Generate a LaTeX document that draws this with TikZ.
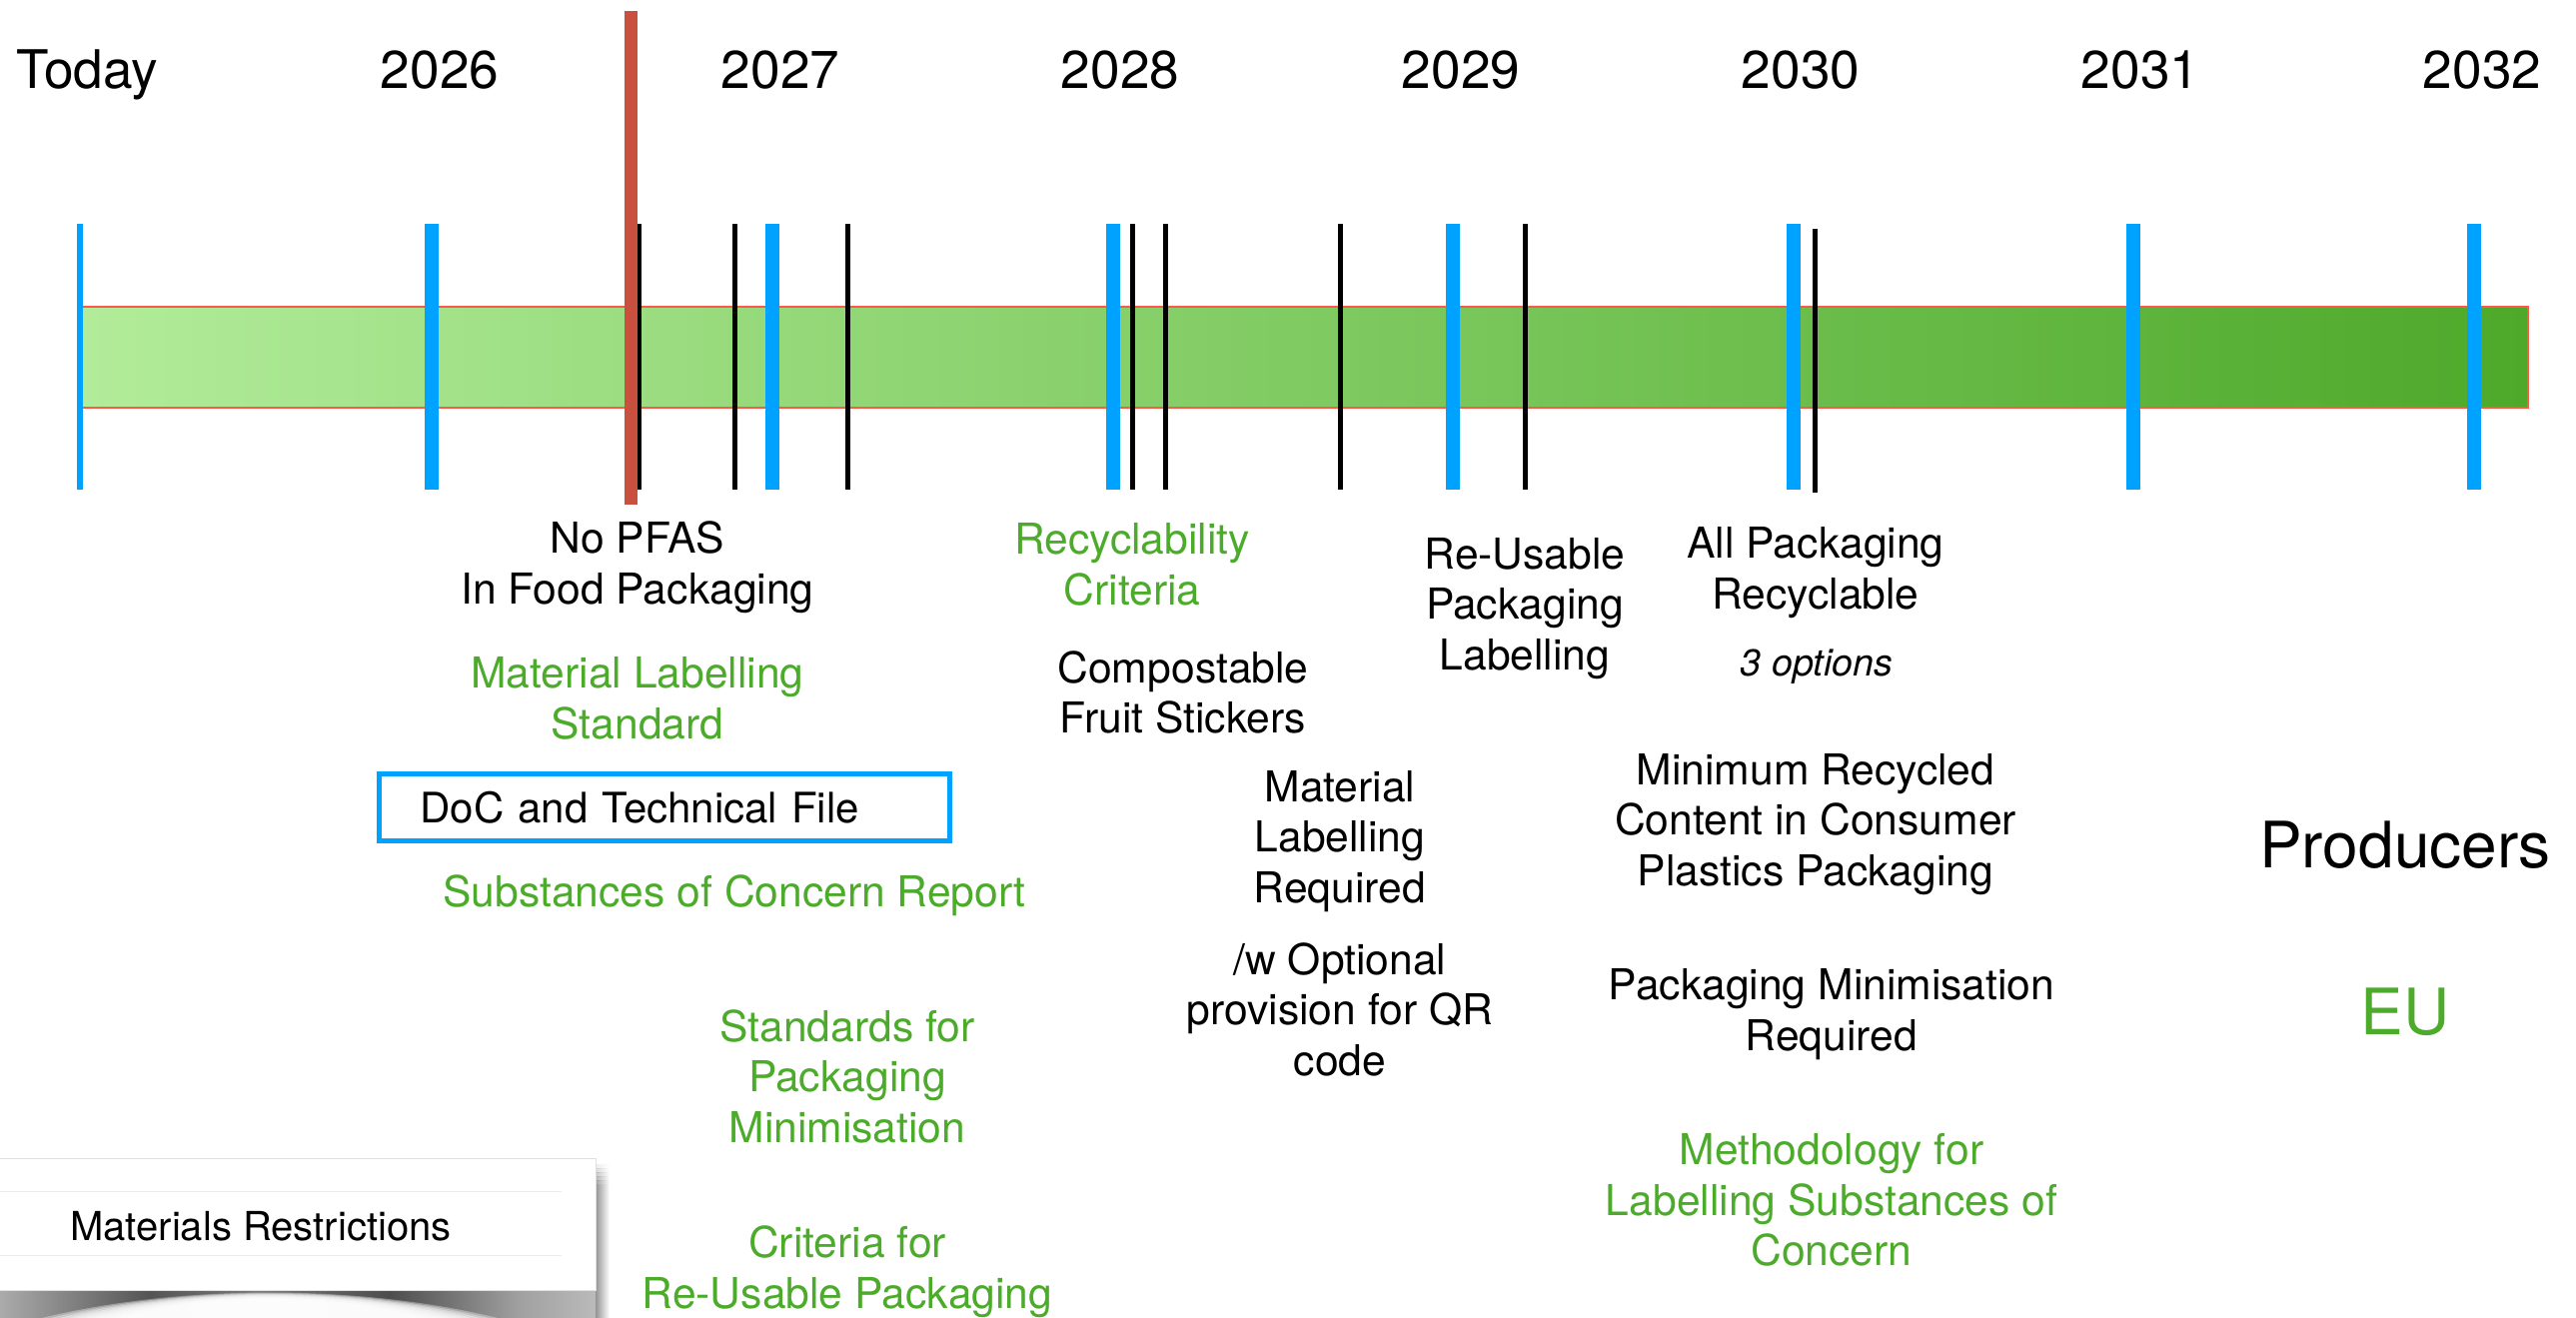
\documentclass[tikz,border=0pt]{standalone}
\usepackage{fontspec}
\setmainfont{TeX Gyre Heros}
\definecolor{tlblue}{HTML}{00A2FF}
\definecolor{tlgreen}{HTML}{4CAB2B}
\definecolor{tlred}{HTML}{C9503E}
\definecolor{tledge}{HTML}{F95A4C}
\definecolor{barL}{HTML}{B2EC9A}
\definecolor{barR}{HTML}{4EA92A}
\pgfdeclarehorizontalshading{barsh}{100bp}{color(0bp)=(barL);color(25bp)=(barL);color(75bp)=(barR);color(100bp)=(barR)}
\pgfdeclarehorizontalshading{panelsh}{100bp}{color(0bp)=(black!33);color(25bp)=(black!33);color(37.6bp)=(black!67);color(46.6bp)=(black!52);color(57.7bp)=(black!70);color(68.6bp)=(black!37);color(75bp)=(black!27);color(100bp)=(black!27)}
\tikzset{
  x=0.5pt,y=-0.5pt,
  yearlab/.style={inner sep=0pt,font=\fontsize{26.6}{30}\selectfont,anchor=center},
  lab/.style={inner sep=0pt,align=center,font=\fontsize{21.3}{25.3}\selectfont},
  glab/.style={lab,text=tlgreen},
  biglab/.style={inner sep=0pt,font=\fontsize{32}{36}\selectfont},
  bluetick/.style={fill=tlblue,draw=none},
  blacktick/.style={fill=black,draw=none},
  docboxstyle/.style={draw=tlblue,line width=2.5pt,minimum height=33.5pt,text width=244.5pt,inner xsep=20.5pt,inner ysep=0pt,align=left,font=\fontsize{21}{25.3}\selectfont},
}
\begin{document}
\begin{tikzpicture}
\useasboundingbox (0,0) rectangle (2578,1318);
% bar
\shade[shading=barsh,draw=none] (80,307) rectangle (2530,408);
\draw[tledge,line width=1pt] (80,307) -- (2530,307) -- (2530,408) -- (80,408);
% ticks
\fill[bluetick] (77,224) rectangle (83,490);
\foreach \x in {432,773,1114,1454,1795,2135}{\fill[bluetick] (\x-7,224) rectangle (\x+7,490);}
\fill[bluetick] (2469,224) rectangle (2483,490);
\foreach \x in {735,848,1133,1166,1341,1526}{\fill[blacktick] (\x-2.5,224) rectangle (\x+2.5,490);}
\fill[blacktick] (637,224) rectangle (642,490);
\fill[blacktick] (1814,229) rectangle (1819,493);
\fill[tlred] (625,11) rectangle (638,505);
% years
\node[yearlab,anchor=west] (today) at (16,75) {Today};
\node[yearlab] (y26) at (440,70) {2026};
\node[yearlab] (y27) at (781,70) {2027};
\node[yearlab] (y28) at (1121,70) {2028};
\node[yearlab] (y29) at (1462,70) {2029};
\node[yearlab] (y30) at (1802,70) {2030};
\node[yearlab] (y31) at (2142,70) {2031};
\node[yearlab] (y32) at (2484,70) {2032};
% labels
\node[lab] (pfas) at (638,568) {No PFAS\\In Food Packaging};
\node[glab] (mls) at (638,699) {Material Labelling\\Standard};
\node[docboxstyle] (doc) at (665,808) {DoC and Technical File};
\node[glab] (soc) at (735,896) {Substances of Concern Report};
\node[glab] (sfp) at (848,1077) {Standards for\\Packaging\\Minimisation};
\node[glab] (crp) at (848,1273) {Criteria for\\Re-Usable Packaging};
\node[glab] (rec) at (1133,565) {Recyclability\\Criteria};
\node[lab] (cfs) at (1184,693) {Compostable\\Fruit Stickers};
\node[lab] (mlr) at (1341,842) {Material\\Labelling\\Required};
\node[lab] (opt) at (1341,1010) {/w Optional\\provision for QR\\code};
\node[lab] (rup) at (1526,609) {Re-Usable\\Packaging\\Labelling};
\node[lab] (apr) at (1817,573) {All Packaging\\Recyclable};
\node[inner sep=0pt,font=\fontsize{18.8}{22}\selectfont\itshape] (opts) at (1818,667) {3 options};
\node[lab] (mrc) at (1817,825) {Minimum Recycled\\Content in Consumer\\Plastics Packaging};
\node[lab] (pmr) at (1833,1015) {Packaging Minimisation\\Required};
\node[glab] (mfl) at (1833,1201) {Methodology for\\Labelling Substances of\\Concern};
\node[biglab] (prod) at (2407,846) {Producers};
\node[biglab,text=tlgreen] (eu) at (2407,1013) {EU};
% panel shadow
\shade[shading=panelsh] (0,1291) rectangle (596,1318);
\foreach \i in {0,...,9}{
  \pgfmathsetmacro{\L}{30+9*\i}
  \pgfmathsetmacro{\R}{510-9*\i}
  \pgfmathsetmacro{\A}{(1293.5+0.7*\i-0.25*1322)/0.75}
  \pgfmathsetmacro{\Ca}{\L+(\R-\L)*0.3}
  \pgfmathsetmacro{\Cb}{\L+(\R-\L)*0.7}
  \fill[white,opacity=0.35] (\L,1322) .. controls (\Ca,\A) and (\Cb,\A) .. (\R,1322) -- cycle;
}
\shade[left color=black!42,right color=white] (596,1185) rectangle (610,1318);
\foreach \i in {1,...,5}{
  \pgfmathsetmacro{\ya}{1165+4*(\i-1)}
  \pgfmathsetmacro{\yb}{\ya+4}
  \pgfmathsetmacro{\op}{\i*0.17}
  \shade[left color=black!42,right color=white,opacity=\op] (596,\ya) rectangle (610,\yb);
}
\fill[white,draw=black!12,line width=0.4pt] (-5,1159) rectangle (596,1291);
\draw[black!8,line width=0.5pt] (0,1192) -- (562,1192) (0,1256) -- (562,1256);
\node[lab,anchor=west,font=\fontsize{20}{24}\selectfont] (mat) at (70,1227) {Materials Restrictions};
\end{tikzpicture}
\end{document}
